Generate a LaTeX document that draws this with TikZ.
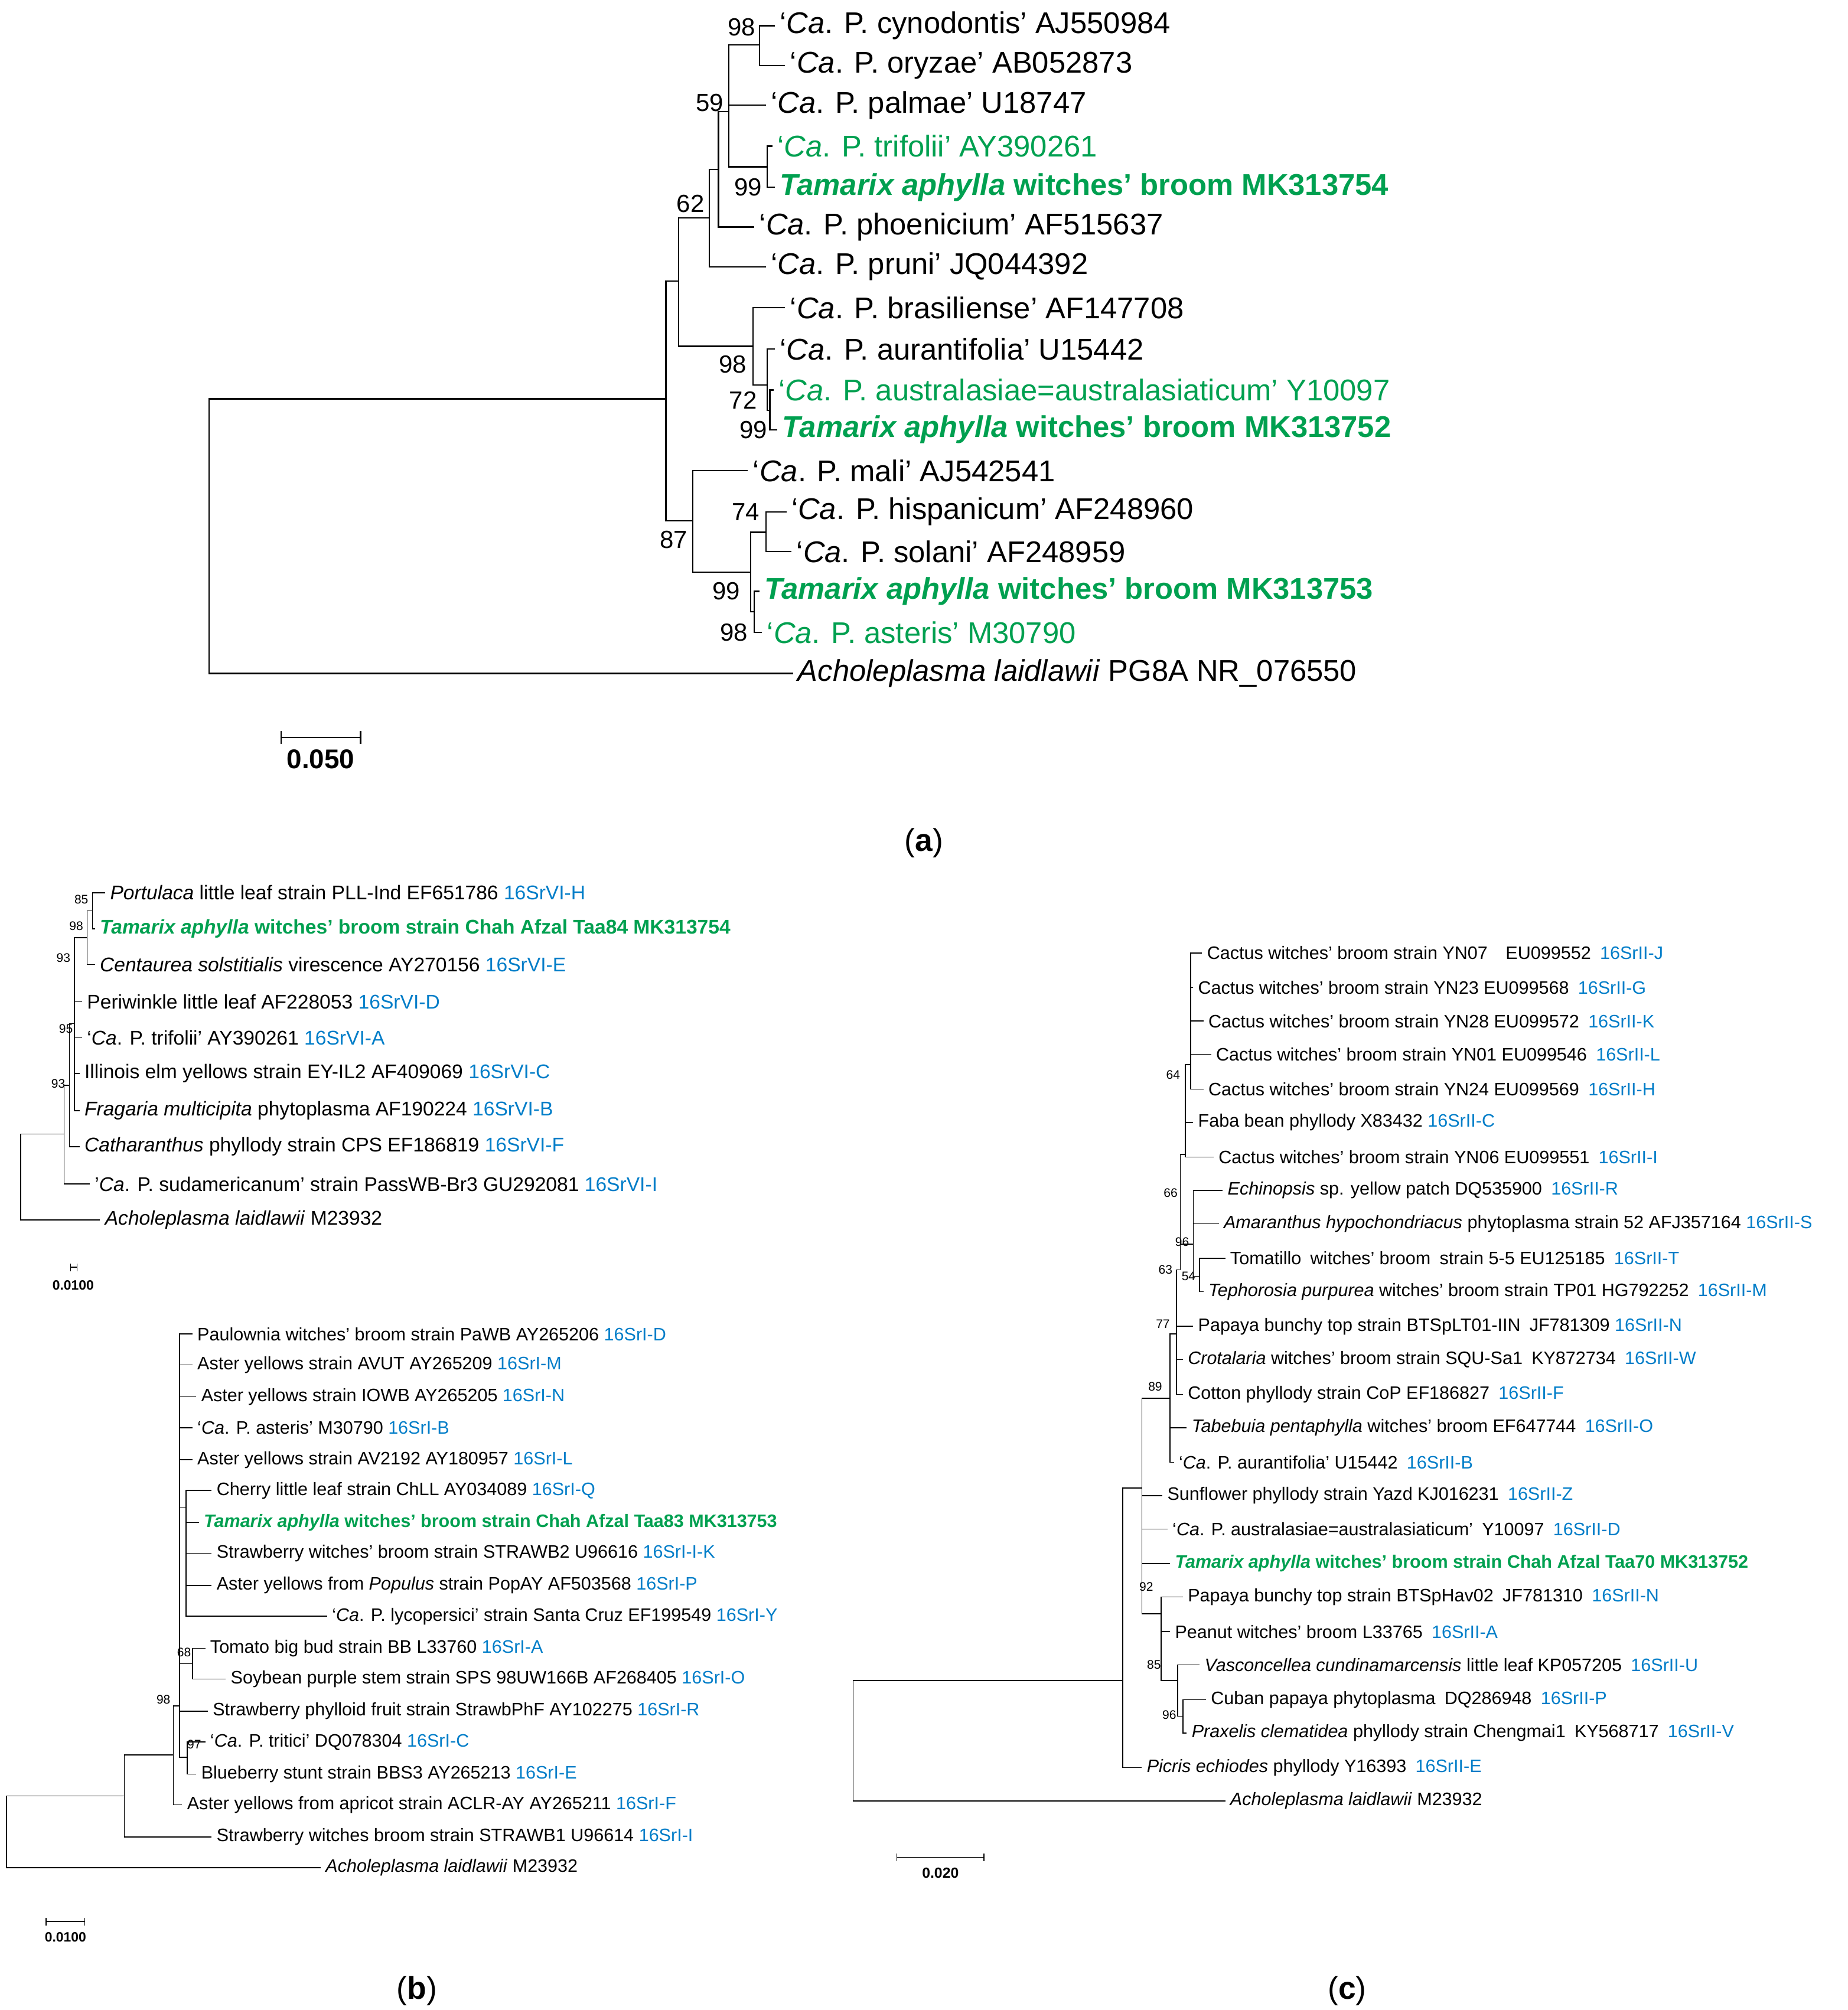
\documentclass[tikz,border=0pt]{standalone}
\usepackage{fontspec}
\setmainfont{Liberation Sans}
\usepackage{xcolor}
\definecolor{tgreen}{RGB}{0,160,80}
\definecolor{tblue}{RGB}{0,125,200}
\usetikzlibrary{positioning, calc}
\newcommand{\grp}[1]{\textcolor{tblue}{#1}}
\newcommand{\tam}{\textit{Tamarix aphylla}}
\begin{document}
\begin{tikzpicture}[x=0.02cm, y=-0.02cm,
leafA/.style={anchor=west, inner sep=2pt, font=\fontsize{13.3}{15}\selectfont},
leafB/.style={anchor=west, inner sep=2pt, font=\fontsize{8}{9}\selectfont},
leafT/.style={anchor=west, inner sep=2pt, font=\fontsize{8.8}{10}\selectfont},
bsA/.style={anchor=east, inner sep=1pt, font=\fontsize{11}{12}\selectfont},
bsB/.style={anchor=east, inner sep=0.5pt, font=\fontsize{5.5}{6}\selectfont},
brA/.style={draw, line width=0.6pt},
brB/.style={draw, line width=0.4pt},
capt/.style={font=\fontsize{14}{16}\selectfont}
]
\useasboundingbox (0,0) rectangle (1440,1567);

% ---------------- (a)
\coordinate (a0) at (163,418);
\coordinate (a1) at (519,311);
\coordinate (a2) at (529,219);
\coordinate (a4) at (553,170);
\coordinate (a6) at (560,132);
\coordinate (a7) at (568,87);
\coordinate (a8) at (592,35);
\coordinate (a9) at (598,130);
\coordinate (ab) at (587,270);
\coordinate (ac) at (598,300);
\coordinate (ad) at (600,320);
\coordinate (a3) at (540,406);
\coordinate (a10) at (585,446);
\coordinate (a11) at (597,415);
\coordinate (a12) at (588,477);

\node[leafA] (cyn) at (604,20) {‘\textit{Ca}. P. cynodontis’ AJ550984};
\node[leafA] (ory) at (612,51) {‘\textit{Ca}. P. oryzae’ AB052873};
\node[leafA] (pal) at (597,82) {‘\textit{Ca}. P. palmae’ U18747};
\node[leafA, text=tgreen] (tri) at (602,114) {‘\textit{Ca}. P. trifolii’ AY390261};
\node[leafA, text=tgreen, font=\fontsize{13.3}{15}\selectfont\bfseries] (t54) at (604,146) {\tam{} witches’ broom MK313754};
\node[leafA] (pho) at (588,177) {‘\textit{Ca}. P. phoenicium’ AF515637};
\node[leafA] (pru) at (597,208) {‘\textit{Ca}. P. pruni’ JQ044392};
\node[leafA] (bra) at (612,240) {‘\textit{Ca}. P. brasiliense’ AF147708};
\node[leafA] (aur) at (604,272) {‘\textit{Ca}. P. aurantifolia’ U15442};
\node[leafA, text=tgreen] (aus) at (603,304) {‘\textit{Ca}. P. australasiae=australasiaticum’ Y10097};
\node[leafA, text=tgreen, font=\fontsize{13.3}{15}\selectfont\bfseries] (t52) at (606,335) {\tam{} witches’ broom MK313752};
\node[leafA] (mal) at (583,367) {‘\textit{Ca}. P. mali’ AJ542541};
\node[leafA] (his) at (613,399) {‘\textit{Ca}. P. hispanicum’ AF248960};
\node[leafA] (sol) at (617,430) {‘\textit{Ca}. P. solani’ AF248959};
\node[leafA, text=tgreen, font=\fontsize{13.3}{15}\selectfont\bfseries] (t53) at (592,461) {\tam{} witches’ broom MK313753};
\node[leafA, text=tgreen] (ast) at (594,493) {‘\textit{Ca}. P. asteris’ M30790};
\node[leafA] (ach) at (618,525) {\textit{Acholeplasma laidlawii} PG8A NR\_076550};

\path[brA] (a0) |- (a1) (a0) |- (ach.west);
\path[brA] (a1) |- (a2) (a1) |- (a3);
\path[brA] (a2) |- (a4) (a2) |- (ab);
\path[brA] (a4) |- (a6) (a4) |- (pru.west);
\path[brA] (a6) |- (a7) (a6) |- (pho.west);
\path[brA] (a7) |- (a8) (a7) |- (pal.west) (a7) |- (a9);
\path[brA] (a8) |- (cyn.west) (a8) |- (ory.west);
\path[brA] (a9) |- (tri.west) (a9) |- (t54.west);
\path[brA] (ab) |- (bra.west) (ab) |- (ac);
\path[brA] (ac) |- (aur.west) (ac) |- (ad);
\path[brA] (ad) |- (aus.west) (ad) |- (t52.west);
\path[brA] (a3) |- (mal.west) (a3) |- (a10);
\path[brA] (a10) |- (a11) (a10) |- (a12);
\path[brA] (a11) |- (his.west) (a11) |- (sol.west);
\path[brA] (a12) |- (t53.west) (a12) |- (ast.west);

\node[bsA] at (591,21) {98};
\node[bsA] at (566,80) {59};
\node[bsA] at (596,146) {99};
\node[bsA] at (551,159) {62};
\node[bsA] at (584,284) {98};
\node[bsA] at (592,312) {72};
\node[bsA] at (600,335) {99};
\node[bsA] at (594,399) {74};
\node[bsA] at (538,421) {87};
\node[bsA] at (579,461) {99};
\node[bsA] at (585,493) {98};

\coordinate (sa1) at (219,575);
\coordinate (sa2) at (281,575);
\path[brA] (sa1) -- (sa2) ($(sa1)+(0,-5)$) -- ($(sa1)+(0,5)$) ($(sa2)+(0,-5)$) -- ($(sa2)+(0,5)$);
\node[font=\fontsize{12}{14}\selectfont\bfseries] at (250,592) {0.050};
\node[capt] at (720,657) {(\textbf{a})};

% ---------------- (b) top
\coordinate (b0) at (16,918);
\coordinate (be) at (50,884);
\coordinate (bd) at (54,846);
\coordinate (bc) at (58,798);
\coordinate (bb) at (68,731);
\coordinate (ba) at (72,710);

\node[leafT] (por) at (82,696) {\textit{Portulaca} little leaf strain PLL-Ind EF651786 \grp{16SrVI-H}};
\node[leafT, text=tgreen, font=\fontsize{8.8}{10}\selectfont\bfseries] (b54) at (74,724) {\tam{} witches’ broom strain Chah Afzal Taa84 MK313754};
\node[leafT] (cen) at (74,752) {\textit{Centaurea solstitialis} virescence AY270156 \grp{16SrVI-E}};
\node[leafT] (per) at (64,781) {Periwinkle little leaf AF228053 \grp{16SrVI-D}};
\node[leafT] (btr) at (64,809) {‘\textit{Ca}. P. trifolii’ AY390261 \grp{16SrVI-A}};
\node[leafT] (ill) at (62,837) {Illinois elm yellows strain EY-IL2 AF409069 \grp{16SrVI-C}};
\node[leafT] (fra) at (62,866) {\textit{Fragaria multicipita} phytoplasma AF190224 \grp{16SrVI-B}};
\node[leafT] (cat) at (62,894) {\textit{Catharanthus} phyllody strain CPS EF186819 \grp{16SrVI-F}};
\node[leafT] (sud) at (70,923) {'\textit{Ca}. P. sudamericanum' strain PassWB-Br3 GU292081 \grp{16SrVI-I}};
\node[leafT] (bac) at (78,951) {\textit{Acholeplasma laidlawii} M23932};

\path[brB] (b0) |- (be) (b0) |- (bac.west);
\path[brB] (be) |- (bd) (be) |- (sud.west);
\path[brB] (bd) |- (bc) (bd) |- (cat.west);
\path[brB] (bc) |- (bb) (bc) |- (per.west) (bc) |- (btr.west) (bc) |- (ill.west) (bc) |- (fra.west);
\path[brB] (bb) |- (ba) (bb) |- (cen.west);
\path[brB] (ba) |- (por.west) (ba) |- (b54.west);

\node[bsB] at (70,701) {85};
\node[bsB] at (66,722) {98};
\node[bsB] at (56,747) {93};
\node[bsB] at (58,802) {95};
\node[bsB] at (52,845) {93};

\path[brB] (55,988) -- (60,988) (55,985) -- (55,991) (60,985) -- (60,991);
\node[font=\fontsize{6}{7}\selectfont\bfseries] at (57,1002) {0.0100};

% ---------------- (b) bottom
\coordinate (r0) at (5,1428);
\coordinate (rq) at (97,1400);
\coordinate (rr) at (135,1368);
\coordinate (rs) at (140,1330);
\coordinate (rt) at (145,1175);
\coordinate (ru) at (150,1297);
\coordinate (rv) at (146,1370);

\node[leafB] (pau) at (150,1040) {Paulownia witches’ broom strain PaWB AY265206 \grp{16SrI-D}};
\node[leafB] (avu) at (150,1064) {Aster yellows strain AVUT AY265209 \grp{16SrI-M}};
\node[leafB] (iow) at (153,1089) {Aster yellows strain IOWB AY265205 \grp{16SrI-N}};
\node[leafB] (bas) at (150,1113) {‘\textit{Ca}. P. asteris’ M30790 \grp{16SrI-B}};
\node[leafB] (av2) at (150,1138) {Aster yellows strain AV2192 AY180957 \grp{16SrI-L}};
\node[leafB] (che) at (165,1162) {Cherry little leaf strain ChLL AY034089 \grp{16SrI-Q}};
\node[leafB, text=tgreen, font=\fontsize{8}{9}\selectfont\bfseries] (b53) at (155,1187) {\tam{} witches’ broom strain Chah Afzal Taa83 MK313753};
\node[leafB] (sw2) at (165,1211) {Strawberry witches’ broom strain STRAWB2 U96616 \grp{16SrI-I-K}};
\node[leafB] (pop) at (165,1236) {Aster yellows from \textit{Populus} strain PopAY AF503568 \grp{16SrI-P}};
\node[leafB] (lyc) at (255,1260) {‘\textit{Ca}. P. lycopersici’ strain Santa Cruz EF199549 \grp{16SrI-Y}};
\node[leafB] (tom) at (160,1285) {Tomato big bud strain BB L33760 \grp{16SrI-A}};
\node[leafB] (soy) at (176,1309) {Soybean purple stem strain SPS 98UW166B AF268405 \grp{16SrI-O}};
\node[leafB] (phf) at (162,1334) {Strawberry phylloid fruit strain StrawbPhF AY102275 \grp{16SrI-R}};
\node[leafB] (trt) at (160,1358) {‘\textit{Ca}. P. tritici’ DQ078304 \grp{16SrI-C}};
\node[leafB] (blu) at (153,1383) {Blueberry stunt strain BBS3 AY265213 \grp{16SrI-E}};
\node[leafB] (apr) at (142,1407) {Aster yellows from apricot strain ACLR-AY AY265211 \grp{16SrI-F}};
\node[leafB] (sw1) at (165,1432) {Strawberry witches broom strain STRAWB1 U96614 \grp{16SrI-I}};
\node[leafB] (rac) at (250,1456) {\textit{Acholeplasma laidlawii} M23932};

\path[brB] (r0) |- (rq) (r0) |- (rac.west);
\path[brB] (rq) |- (rr) (rq) |- (sw1.west);
\path[brB] (rr) |- (rs) (rr) |- (apr.west);
\path[brB] (rs) |- (pau.west) (rs) |- (avu.west) (rs) |- (iow.west) (rs) |- (bas.west) (rs) |- (av2.west);
\path[brB] (rs) |- (rt) (rs) |- (ru) (rs) |- (phf.west) (rs) |- (rv);
\path[brB] (rt) |- (che.west) (rt) |- (b53.west) (rt) |- (sw2.west) (rt) |- (pop.west) (rt) |- (lyc.west);
\path[brB] (ru) |- (tom.west) (ru) |- (soy.west);
\path[brB] (rv) |- (trt.west) (rv) |- (blu.west);

\node[bsB] at (150,1288) {68};
\node[bsB] at (158,1360) {97};
\node[bsB] at (134,1325) {98};

\path[brB] (36,1498) -- (66,1498) (36,1495) -- (36,1501) (66,1495) -- (66,1501);
\node[font=\fontsize{6}{7}\selectfont\bfseries] at (51,1510) {0.0100};
\node[capt] at (325,1552) {(\textbf{b})};

% ---------------- (c)
\coordinate (c0) at (665,1340);
\coordinate (cq) at (875,1310);
\coordinate (cr) at (890,1160);
\coordinate (ct) at (905,1258);
\coordinate (cu) at (918,1310);
\coordinate (cv) at (922,1338);
\coordinate (cs) at (912,1090);
\coordinate (cw) at (917,1040);
\coordinate (cx) at (920,990);
\coordinate (cy) at (924,900);
\coordinate (c64) at (928,830);
\coordinate (cz) at (930,970);
\coordinate (c54) at (935,995);

\node[leafB] (y07) at (937,743) {Cactus witches’ broom strain YN07\quad EU099552\enspace\grp{16SrII-J}};
\node[leafB] (y23) at (930,770) {Cactus witches’ broom strain YN23 EU099568\enspace\grp{16SrII-G}};
\node[leafB] (y28) at (938,796) {Cactus witches’ broom strain YN28 EU099572\enspace\grp{16SrII-K}};
\node[leafB] (y01) at (944,822) {Cactus witches’ broom strain YN01 EU099546\enspace\grp{16SrII-L}};
\node[leafB] (y24) at (938,849) {Cactus witches’ broom strain YN24 EU099569\enspace\grp{16SrII-H}};
\node[leafB] (fab) at (930,875) {Faba bean phyllody X83432 \grp{16SrII-C}};
\node[leafB] (y06) at (946,902) {Cactus witches’ broom strain YN06 EU099551\enspace\grp{16SrII-I}};
\node[leafB] (ech) at (953,928) {\textit{Echinopsis} sp. yellow patch DQ535900\enspace\grp{16SrII-R}};
\node[leafB] (ama) at (950,954) {\textit{Amaranthus hypochondriacus} phytoplasma strain 52 AFJ357164 \grp{16SrII-S}};
\node[leafB] (tml) at (955,981) {Tomatillo\enspace witches’ broom\enspace strain 5-5 EU125185\enspace\grp{16SrII-T}};
\node[leafB] (tep) at (938,1007) {\textit{Tephorosia purpurea} witches’ broom strain TP01 HG792252\enspace\grp{16SrII-M}};
\node[leafB] (pp1) at (930,1034) {Papaya bunchy top strain BTSpLT01-IIN\enspace JF781309 \grp{16SrII-N}};
\node[leafB] (cro) at (922,1060) {\textit{Crotalaria} witches’ broom strain SQU-Sa1\enspace KY872734\enspace\grp{16SrII-W}};
\node[leafB] (cot) at (922,1087) {Cotton phyllody strain CoP EF186827\enspace\grp{16SrII-F}};
\node[leafB] (tab) at (925,1113) {\textit{Tabebuia pentaphylla} witches’ broom EF647744\enspace\grp{16SrII-O}};
\node[leafB] (cau) at (915,1140) {‘\textit{Ca}. P. aurantifolia’ U15442\enspace\grp{16SrII-B}};
\node[leafB] (sun) at (906,1166) {Sunflower phyllody strain Yazd KJ016231\enspace\grp{16SrII-Z}};
\node[leafB] (cas) at (910,1192) {‘\textit{Ca}. P. australasiae=australasiaticum’\enspace Y10097\enspace\grp{16SrII-D}};
\node[leafB, text=tgreen, font=\fontsize{8}{9}\selectfont\bfseries] (c52) at (912,1219) {\tam{} witches’ broom strain Chah Afzal Taa70 MK313752};
\node[leafB] (pp2) at (922,1245) {Papaya bunchy top strain BTSpHav02\enspace JF781310\enspace\grp{16SrII-N}};
\node[leafB] (pea) at (912,1272) {Peanut witches’ broom L33765\enspace\grp{16SrII-A}};
\node[leafB] (vas) at (935,1298) {\textit{Vasconcellea cundinamarcensis} little leaf KP057205\enspace\grp{16SrII-U}};
\node[leafB] (cub) at (940,1325) {Cuban papaya phytoplasma\enspace DQ286948\enspace\grp{16SrII-P}};
\node[leafB] (pra) at (925,1351) {\textit{Praxelis clematidea} phyllody strain Chengmai1\enspace KY568717\enspace\grp{16SrII-V}};
\node[leafB] (pic) at (890,1378) {\textit{Picris echiodes} phyllody Y16393\enspace\grp{16SrII-E}};
\node[leafB] (cac) at (955,1404) {\textit{Acholeplasma laidlawii} M23932};

\path[brB] (c0) |- (cq) (c0) |- (cac.west);
\path[brB] (cq) |- (cr) (cq) |- (pic.west);
\path[brB] (cr) |- (cs) (cr) |- (sun.west) (cr) |- (cas.west) (cr) |- (c52.west) (cr) |- (ct);
\path[brB] (ct) |- (pp2.west) (ct) |- (pea.west) (ct) |- (cu);
\path[brB] (cu) |- (vas.west) (cu) |- (cv);
\path[brB] (cv) |- (cub.west) (cv) |- (pra.west);
\path[brB] (cs) |- (cw) (cs) |- (tab.west) (cs) |- (cau.west);
\path[brB] (cw) |- (cx) (cw) |- (pp1.west) (cw) |- (cro.west) (cw) |- (cot.west);
\path[brB] (cx) |- (cy) (cx) |- (cz);
\path[brB] (cy) |- (c64) (cy) |- (fab.west) (cy) |- (y06.west);
\path[brB] (c64) |- (y07.west) (c64) |- (y23.west) (c64) |- (y28.west) (c64) |- (y01.west) (c64) |- (y24.west);
\path[brB] (cz) |- (ech.west) (cz) |- (ama.west) (cz) |- (c54);
\path[brB] (c54) |- (tml.west) (c54) |- (tep.west);

\node[bsB] at (921,838) {64};
\node[bsB] at (919,930) {66};
\node[bsB] at (928,968) {96};
\node[bsB] at (933,995) {54};
\node[bsB] at (915,990) {63};
\node[bsB] at (913,1032) {77};
\node[bsB] at (907,1081) {89};
\node[bsB] at (900,1237) {92};
\node[bsB] at (906,1298) {85};
\node[bsB] at (918,1337) {96};

\path[brB] (699,1448) -- (767,1448) (699,1445) -- (699,1451) (767,1445) -- (767,1451);
\node[font=\fontsize{6.5}{7}\selectfont\bfseries] at (733,1460) {0.020};
\node[capt] at (1050,1552) {(\textbf{c})};
\end{tikzpicture}
\end{document}
